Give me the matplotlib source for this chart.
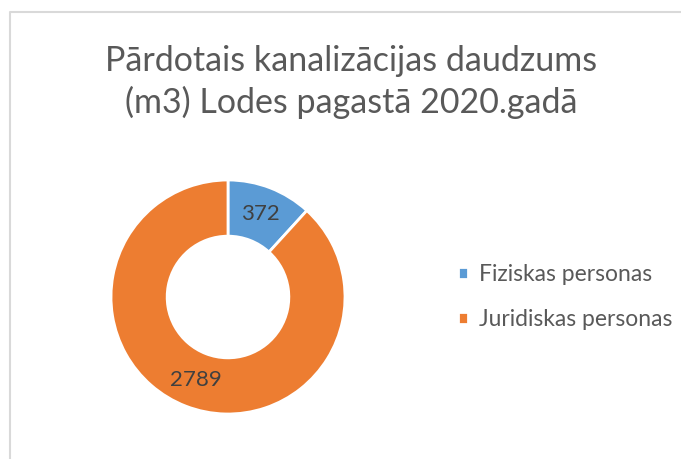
import matplotlib.pyplot as plt
from matplotlib.lines import Line2D

# data
categories = ['Fiziskas personas', 'Juridiskas personas']
values = [372, 2789]
colors = ['#5B9BD5', '#ED7D31']
title = 'Pārdotais kanalizācijas daudzums\n(m3) Lodes pagastā 2020.gadā'

plt.rcParams['font.family'] = ['Lato', 'DejaVu Sans']

W, H = 681, 459
fig = plt.figure(figsize=(W / 100, H / 100), dpi=100)

# chart border (only top and left edges visible in the crop)
fig.add_artist(Line2D([9.5 / W, 9.5 / W, 1.0], [0.0, 1 - 12 / H, 1 - 12 / H],
                      transform=fig.transFigure, color='#D9D9D9', lw=1.5))

# donut centre (228, 297) px, radius 117 px
cx, cy, r = 228, 297, 117
ax = fig.add_axes([(cx - r) / W, 1 - (cy + r) / H, 2 * r / W, 2 * r / H])
total = sum(values)
wedges, texts, autotexts = ax.pie(
    values, colors=colors, startangle=90, counterclock=False,
    wedgeprops=dict(width=0.48, edgecolor='white', linewidth=2),
    autopct=lambda p: '{:.0f}'.format(p * total / 100),
    pctdistance=0.76,
    textprops=dict(color='#404040', fontsize=16))
ax.set_xlim(-1, 1)
ax.set_ylim(-1, 1)
ax.set_aspect('equal')

fig.text(351 / W, 1 - 82 / H, title, ha='center', va='center',
         fontsize=24.5, color='#595959', linespacing=1.32)

fig.legend(wedges, categories, loc='center left',
           bbox_to_anchor=(458 / W, 1 - 297 / H),
           frameon=False, fontsize=16.5, labelcolor='#595959',
           handlelength=0.45, handleheight=0.45, handletextpad=0.45,
           labelspacing=1.05, borderpad=0, borderaxespad=0)

fig.savefig('out.png', dpi=100)
